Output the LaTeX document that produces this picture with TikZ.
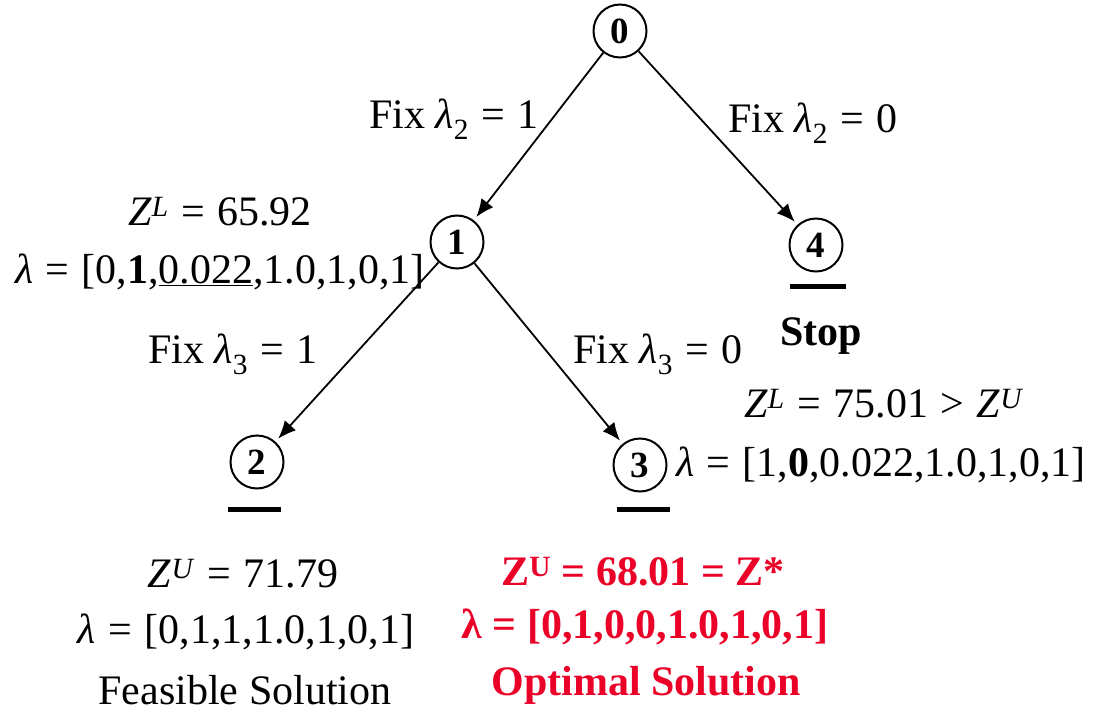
\documentclass[tikz,border=0pt]{standalone}
\usepackage{fontspec}
\setmainfont{Liberation Serif}
\usetikzlibrary{positioning, arrows.meta}
\definecolor{optred}{RGB}{235,0,40}

\newcommand{\lam}{\textit{λ}}
\newcommand{\Zup}[1]{\textit{Z}\textsuperscript{\textit{#1}}}
\newcommand{\eq}{\ \kern2pt=\kern2pt\ }
\newcommand{\gt}{\ \kern2pt>\kern2pt\ }

\begin{document}
\begin{tikzpicture}[x=1pt, y=-1pt,
  bbnode/.style={circle, draw, line width=2pt, minimum size=53pt, inner sep=0pt,
                 font=\fontsize{37}{42}\selectfont\bfseries},
  txt/.style={inner sep=0pt, font=\fontsize{42}{48}\selectfont},
  redtxt/.style={inner sep=0pt, text=optred, font=\fontsize{42}{48}\selectfont\bfseries},
  branch/.style={line width=1.8pt, -{Latex[length=18pt,width=15pt]}, shorten >=4pt},
  bar/.style={line width=5pt}]

\useasboundingbox (0,0) rectangle (1094,714);

% Nodes of the tree
\node[bbnode] (n0) at (620,31) {0};
\node[bbnode] (n1) at (457,242) {1};
\node[bbnode] (n4) at (816,245) {4};
\node[bbnode] (n2) at (257,462) {2};
\node[bbnode] (n3) at (640,465) {3};

% Branches
\draw[branch] (n0) -- (n1);
\draw[branch] (n0) -- (n4);
\draw[branch] (n1) -- (n2);
\draw[branch] (n1) -- (n3);

% Bars under pruned / solved nodes
\draw[bar] (790,286) -- (846,286);
\draw[bar] (228,509) -- (281,509);
\draw[bar] (617,509) -- (670,509);

% Branch labels
\node[txt] (f21) at (454,119) {Fix \lam\textsubscript{2}\eq 1};
\node[txt] (f20) at (813,123) {Fix \lam\textsubscript{2}\eq 0};
\node[txt] (f31) at (233,354) {Fix \lam\textsubscript{3}\eq 1};
\node[txt] (f30) at (658,354) {Fix \lam\textsubscript{3}\eq 0};

% Node 1
\node[txt] (zl1) at (220,212) {\Zup{L}\eq 65.92};
\node[txt] (lam1) at (220,272) {\lam\eq[0,\textbf{1},\underline{0.022},1.0,1,0,1]};

% Node 4
\node[bbnode, draw=none, font=\fontsize{42}{48}\selectfont\bfseries] (stop) at (821,336) {Stop};
\node[txt] (zl4) at (884,404) {\Zup{L}\eq 75.01\gt\Zup{U}};
\node[txt] (lam4) at (881,465) {\lam\eq[1,\textbf{0},0.022,1.0,1,0,1]};

% Node 2
\node[txt] (zu2) at (243,574) {\Zup{U}\eq 71.79};
\node[txt] (lam2) at (246,632) {\lam\eq[0,1,1,1.0,1,0,1]};
\node[txt] (feas) at (245,690) {Feasible Solution};

% Node 3
\node[redtxt] (zu3) at (643,572) {Z\textsuperscript{U} = 68.01 = Z*};
\node[redtxt] (lam3) at (645,627) {λ = [0,1,0,0,1.0,1,0,1]};
\node[redtxt] (opt) at (646,685) {Optimal Solution};

\end{tikzpicture}
\end{document}
